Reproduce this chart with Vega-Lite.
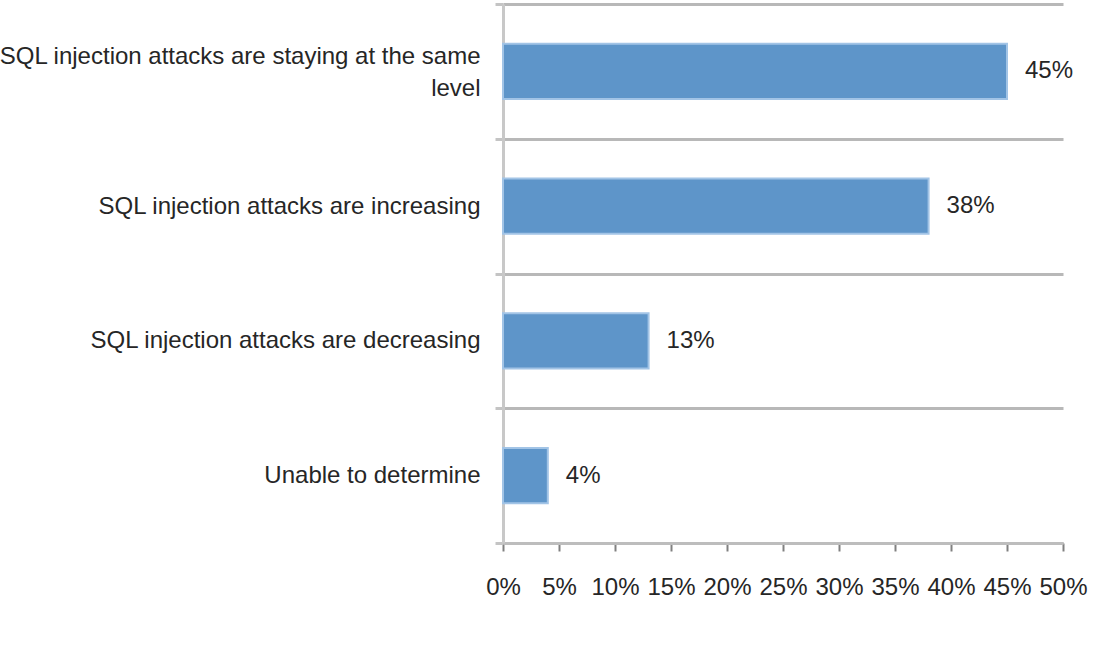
{
  "$schema": "https://vega.github.io/schema/vega-lite/v6.json",
  "autosize": {"type": "none"},
  "padding": {"left": 503, "top": 4, "right": 55, "bottom": 113},
  "width": 560,
  "height": 539,
  "background": "white",
  "config": {
    "view": {"stroke": null},
    "font": "Liberation Sans"
  },
  "data": {
    "values": [
      {"category": "SQL injection attacks are staying at the same level", "share": 0.45},
      {"category": "SQL injection attacks are increasing", "share": 0.38},
      {"category": "SQL injection attacks are decreasing", "share": 0.13},
      {"category": "Unable to determine", "share": 0.04}
    ]
  },
  "encoding": {
    "y": {
      "field": "category",
      "type": "nominal",
      "sort": null,
      "scale": {"paddingInner": 0, "paddingOuter": 0},
      "axis": {
        "title": null,
        "domain": true,
        "domainColor": "#c8c8c8",
        "domainWidth": 3,
        "ticks": true,
        "tickColor": "#c4c4c4",
        "tickWidth": 3,
        "tickSize": 8,
        "tickBand": "extent",
        "grid": true,
        "gridColor": "#b8b8b8",
        "gridWidth": 3,
        "labelFont": "Liberation Sans",
        "labelFontSize": 24,
        "labelColor": "#262626",
        "labelPadding": 15,
        "labelLimit": 0,
        "labelLineHeight": 32,
        "labelOffset": {"condition": {"test": "datum.value == 'SQL injection attacks are staying at the same level'", "value": -15}, "value": 0},
        "labelExpr": "datum.value == 'SQL injection attacks are staying at the same level' ? ['SQL injection attacks are staying at the same', 'level'] : datum.value"
      }
    },
    "x": {
      "field": "share",
      "type": "quantitative",
      "scale": {"domain": [0, 0.5], "nice": false},
      "axis": {
        "title": null,
        "values": [0, 0.05, 0.1, 0.15, 0.2, 0.25, 0.3, 0.35, 0.4, 0.45, 0.5],
        "format": ".0%",
        "grid": false,
        "domainColor": "#bdbdbd",
        "domainWidth": 3,
        "tickColor": "#808080",
        "tickWidth": 2,
        "tickSize": 8,
        "labelFont": "Liberation Sans",
        "labelFontSize": 24,
        "labelColor": "#262626",
        "labelPadding": 24,
        "labelOverlap": false,
        "labelFlush": false
      }
    }
  },
  "layer": [
    {
      "mark": {"type": "bar", "height": {"band": 0.41}, "fill": "#5e95c9", "stroke": "#a2c4e6", "strokeWidth": 2}
    },
    {
      "mark": {"type": "text", "align": "left", "baseline": "middle", "dx": 18, "fontSize": 24, "color": "#262626", "font": "Liberation Sans"},
      "encoding": {
        "y": {"field": "category", "type": "nominal", "sort": null, "bandPosition": 0.5},
        "text": {"field": "share", "type": "quantitative", "format": ".0%"}
      }
    }
  ]
}
